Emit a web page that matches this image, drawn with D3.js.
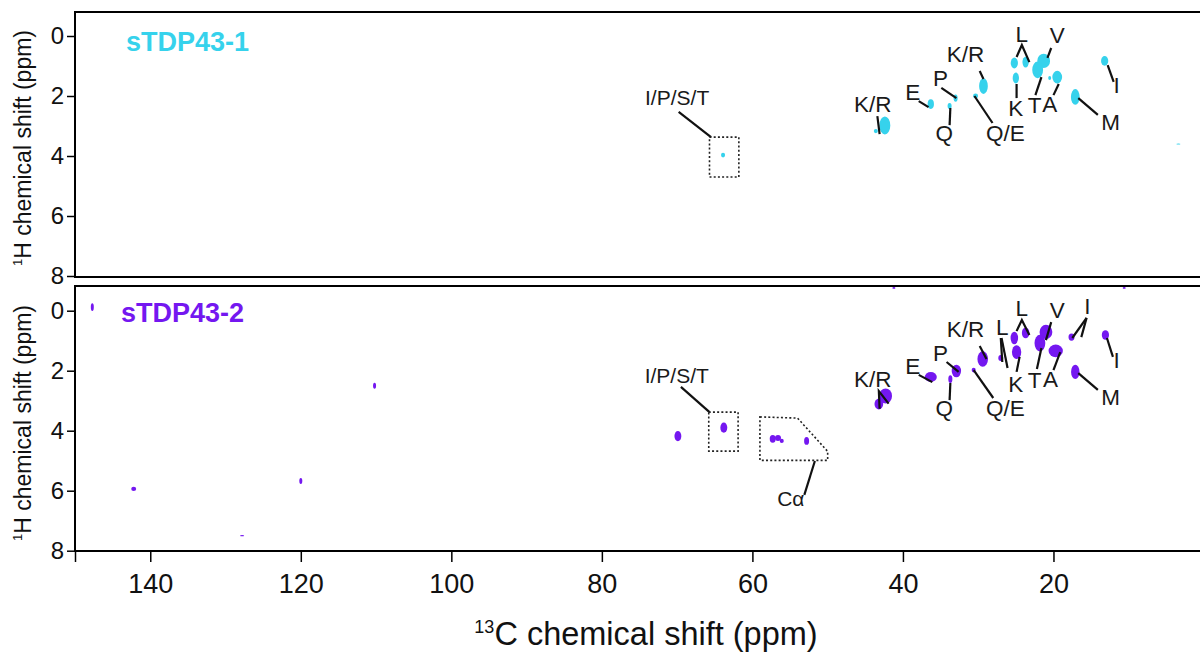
<!DOCTYPE html>
<html><head><meta charset="utf-8">
<script src="https://cdn.jsdelivr.net/npm/d3@7"></script>
<style>
body{margin:0;background:#fff}
svg{display:block}
text{font-family:"Liberation Sans",Arial,Helvetica,sans-serif}
</style>
</head><body>
<svg id="chart" width="1200" height="654"></svg>
<script>
// ---------- data (ppm) ----------
const xTicks = [140, 120, 100, 80, 60, 40, 20];
const yTicks = [0, 2, 4, 6, 8];
const panelNames = ["sTDP43-1", "sTDP43-2"];
const panelColors = ["#36d2ec", "#7417f0"];

// sTDP43-1 peaks: 13C shift, 1H shift, half-widths
const s1C  = [42.4, 43.6, 36.3, 33.0, 33.8, 29.3, 30.35, 25.2, 23.7, 25.0, 21.3, 22.1, 19.5, 20.5, 17.1, 13.2, 3.4, 63.9];
const s1H  = [2.98, 3.17, 2.27, 2.07, 2.33, 1.67, 2.0, 0.9, 0.87, 1.4, 0.83, 1.13, 1.37, 1.4, 2.03, 0.83, 3.6, 3.97];
const s1WC = [0.72, 0.27, 0.42, 0.27, 0.27, 0.58, 0.33, 0.48, 0.42, 0.42, 0.85, 0.72, 0.65, 0.2, 0.58, 0.48, 0.27, 0.27];
const s1WH = [0.3, 0.07, 0.16, 0.12, 0.1, 0.26, 0.08, 0.18, 0.18, 0.18, 0.24, 0.28, 0.21, 0.07, 0.26, 0.16, 0.02, 0.08];

// sTDP43-2 peaks
const s2C  = [147.7, 142.2, 127.8, 120.0, 110.2, 69.9, 63.8, 57.3, 56.6, 56.1, 52.8, 42.3, 43.2, 36.3, 32.9, 33.7, 29.4, 30.6, 27.0, 25.2, 23.7, 24.9, 21.0, 21.8, 19.7, 17.6, 17.1, 13.1, 41.2, 10.6];
const s2H  = [-0.12, 5.94, 7.5, 5.68, 2.5, 4.18, 3.9, 4.27, 4.24, 4.34, 4.34, 2.84, 3.11, 2.21, 2.01, 2.28, 1.61, 1.98, 1.58, 0.91, 0.74, 1.38, 0.71, 1.08, 1.34, 0.88, 2.04, 0.81, -0.76, -0.76];
const s2WC = [0.2, 0.33, 0.27, 0.2, 0.2, 0.46, 0.46, 0.4, 0.4, 0.27, 0.33, 0.85, 0.58, 0.8, 0.62, 0.27, 0.7, 0.27, 0.33, 0.5, 0.5, 0.62, 0.85, 0.72, 0.95, 0.4, 0.56, 0.48, 0.2, 0.2];
const s2WH = [0.13, 0.07, 0.02, 0.1, 0.1, 0.17, 0.17, 0.13, 0.1, 0.07, 0.13, 0.25, 0.18, 0.17, 0.21, 0.13, 0.26, 0.08, 0.1, 0.21, 0.18, 0.23, 0.24, 0.28, 0.21, 0.12, 0.24, 0.16, 0.03, 0.03];

// residue labels (anchor in ppm: 13C, 1H baseline)
const lab1Text = ["K/R", "E", "P", "Q", "K/R", "Q/E", "L", "V", "K", "T", "A", "M", "I"];
const lab1C    = [44.0, 38.7, 35.0, 34.5, 31.7, 26.4, 24.2, 19.5, 25.0, 22.5, 20.5, 12.4, 11.6];
const lab1H    = [2.53, 2.13, 1.67, 3.5, 0.87, 3.5, 0.2, 0.23, 2.67, 2.57, 2.53, 3.13, 1.9];
const lead1 = [
  [[43.4,2.67],[43.1,3.27]], [[37.9,2.17],[36.6,2.37]], [[34.9,1.73],[32.9,2.07]],
  [[33.7,2.4],[33.8,2.97]], [[29.8,1.17],[29.3,1.43]], [[30.5,2.0],[28.1,2.9]],
  [[24.9,0.7],[24.2,0.3],[23.2,0.87]], [[20.3,0.4],[20.8,0.73]], [[24.9,1.6],[24.9,2.07]],
  [[21.6,1.37],[22.4,1.97]], [[19.3,1.6],[20.0,1.97]], [[16.7,2.07],[14.1,2.63]],
  [[12.8,0.97],[12.0,1.53]], [[69.8,2.53],[65.5,3.37]]
];

const lab2Text = ["K/R", "E", "P", "Q", "K/R", "L", "Q/E", "L", "V", "I", "K", "T", "A", "M", "I"];
const lab2C    = [44.0, 38.7, 35.0, 34.5, 31.7, 26.8, 26.4, 24.2, 19.5, 15.5, 25.0, 22.5, 20.4, 12.4, 11.6];
const lab2H    = [2.54, 2.11, 1.68, 3.51, 0.88, 0.81, 3.51, 0.18, 0.24, 0.12, 2.7, 2.58, 2.54, 3.14, 1.91];
const lead2 = [
  [[43.1,3.27],[43.2,2.68],[41.9,3.1]], [[37.9,2.14],[36.1,2.38]], [[34.2,1.71],[32.6,2.04]],
  [[33.7,2.41],[33.8,2.98]], [[29.8,1.18],[28.9,1.61]], [[27.0,0.91],[26.8,1.71]],
  [[26.9,0.91],[26.1,1.91]], [[30.6,1.98],[28.0,2.91]], [[24.9,0.68],[24.2,0.31],[23.2,0.81]],
  [[20.3,0.38],[21.0,0.98]], [[15.6,0.24],[17.5,0.91]], [[15.6,0.24],[16.3,0.88]],
  [[24.5,1.54],[24.9,2.04]], [[21.6,1.24],[22.2,1.94]], [[19.1,1.38],[20.0,1.98]],
  [[16.7,2.08],[14.1,2.64]], [[12.9,0.91],[12.1,1.54]], [[69.5,2.54],[65.7,3.38]],
  [[51.7,5.01],[53.1,6.14]]
];

// region annotations
const regionText = ["I/P/S/T", "Cα"];
const region1C = [70.0];  const region1H = [2.3];
const region2C = [70.05, 54.9]; const region2H = [2.41, 6.51];
const box1 = [[65.7,3.37],[61.8,3.37],[61.8,4.7],[65.7,4.7]];
const box2 = [[65.8,3.38],[61.9,3.38],[61.9,4.68],[65.8,4.68]];
const caBox = [[59.0,3.54],[54.0,3.58],[50.0,4.69],[50.0,4.99],[59.0,4.99]];

// ---------- drawing ----------
const svg = d3.select("#chart");
const x = d3.scaleLinear().domain([150, 0]).range([75, 1204]);
const yScales = [
  d3.scaleLinear().domain([0, 8]).range([36, 276]),
  d3.scaleLinear().domain([0, 8]).range([310.7, 550.7])
];
const frames = [[12, 277], [286, 551]];
const peaks = [
  {C: s1C, H: s1H, wC: s1WC, wH: s1WH},
  {C: s2C, H: s2H, wC: s2WC, wH: s2WH}
];
const labs = [
  {t: lab1Text, C: lab1C, H: lab1H, lead: lead1, boxes: [box1], rt: [regionText[0]], rC: region1C, rH: region1H},
  {t: lab2Text, C: lab2C, H: lab2H, lead: lead2, boxes: [box2, caBox], rt: regionText, rC: region2C, rH: region2H}
];

[0, 1].forEach(p => {
  const y = yScales[p];
  const g = svg.append("g");
  const clipId = "clip" + p;
  svg.append("clipPath").attr("id", clipId).append("rect")
    .attr("x", x(150)).attr("y", frames[p][0]).attr("width", 1200).attr("height", frames[p][1] - frames[p][0]);

  const inner = g.append("g").attr("clip-path", `url(#${clipId})`);
  const pk = peaks[p];
  inner.selectAll("ellipse").data(pk.C.map((c, i) => i)).join("ellipse")
    .attr("cx", i => x(pk.C[i]))
    .attr("cy", i => y(pk.H[i]))
    .attr("rx", i => Math.abs(x(pk.C[i] + pk.wC[i]) - x(pk.C[i])))
    .attr("ry", i => Math.abs(y(pk.H[i] + pk.wH[i]) - y(pk.H[i])))
    .attr("fill", panelColors[p]);

  const L = labs[p];
  const line = d3.line().x(d => x(d[0])).y(d => y(d[1]));
  inner.selectAll("path.lead").data(L.lead).join("path").attr("class", "lead")
    .attr("d", line).attr("fill", "none").attr("stroke", "#111").attr("stroke-width", 2.2);
  inner.selectAll("path.box").data(L.boxes).join("path").attr("class", "box")
    .attr("d", d => line(d) + "Z").attr("fill", "none").attr("stroke", "#222")
    .attr("stroke-width", 1.6).attr("stroke-dasharray", "2,2.2");
  inner.selectAll("text.res").data(L.t).join("text").attr("class", "res")
    .attr("x", (d, i) => x(L.C[i])).attr("y", (d, i) => y(L.H[i]))
    .attr("text-anchor", "middle").attr("font-size", 22.5).attr("fill", "#1a1a1a").text(d => d);
  inner.selectAll("text.reg").data(L.rt).join("text").attr("class", "reg")
    .attr("x", (d, i) => x(L.rC[i])).attr("y", (d, i) => y(L.rH[i]))
    .attr("text-anchor", "middle").attr("font-size", 21).attr("fill", "#1a1a1a").text(d => d);

  // frame (left, top, bottom; right side continues off-canvas)
  g.append("path")
    .attr("d", `M1210,${frames[p][0]}H${x(150)}V${frames[p][1]}H1210`)
    .attr("fill", "none").attr("stroke", "#000").attr("stroke-width", 2);

  // y axis
  const ya = g.append("g").attr("transform", `translate(${x(150)},0)`)
    .call(d3.axisLeft(y).tickValues(yTicks).tickSize(8).tickPadding(3));
  ya.select(".domain").remove();
  ya.selectAll("line").attr("stroke", "#000").attr("stroke-width", 1.5);
  ya.selectAll("text").attr("font-size", 24).attr("fill", "#111")
    .attr("font-family", "Liberation Sans, Arial, sans-serif");

  // panel title
  g.append("text").attr("x", p === 0 ? 126 : 121).attr("y", p === 0 ? 51 : 322)
    .attr("font-size", 27).attr("font-weight", "bold").attr("fill", panelColors[p]).text(panelNames[p]);

  // y title
  const cy = p === 0 ? 148 : 423;
  const yt = g.append("text").attr("transform", `translate(31,${cy}) rotate(-90)`)
    .attr("text-anchor", "middle").attr("font-size", 23).attr("fill", "#111");
  yt.append("tspan").attr("font-size", 13).attr("dy", -9).text("1");
  yt.append("tspan").attr("dy", 9).text("H chemical shift (ppm)");
});

// x axis
const xa = svg.append("g").attr("transform", `translate(0,${frames[1][1]})`)
  .call(d3.axisBottom(x).tickValues([150].concat(xTicks)).tickSize(11).tickPadding(12)
    .tickFormat(d => d === 150 ? "" : d));
xa.select(".domain").remove();
xa.selectAll("line").attr("stroke", "#000").attr("stroke-width", 1.5);
xa.selectAll("text").attr("font-size", 27).attr("fill", "#111")
  .attr("font-family", "Liberation Sans, Arial, sans-serif");

const xt = svg.append("text").attr("x", 646).attr("y", 645).attr("text-anchor", "middle")
  .attr("font-size", 32.5).attr("fill", "#111");
xt.append("tspan").attr("font-size", 18).attr("dy", -12).text("13");
xt.append("tspan").attr("dy", 12).text("C chemical shift (ppm)");
</script>
</body></html>
